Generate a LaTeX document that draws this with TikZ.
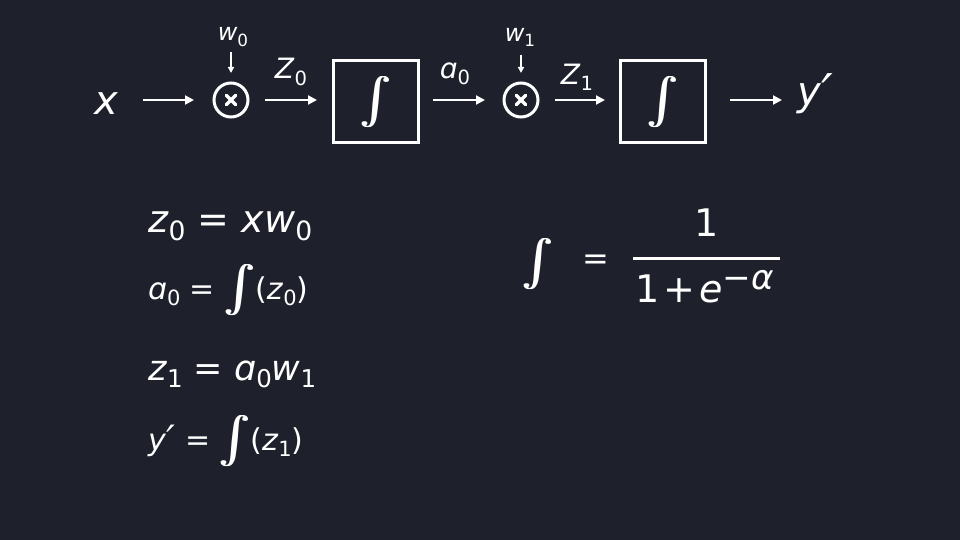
\documentclass[tikz,border=0pt]{standalone}
\usepackage{fontspec}
\setmainfont{DejaVu Sans}
\usepackage{amsmath}
\usepackage{graphicx}
\usetikzlibrary{arrows.meta}
\definecolor{bg}{RGB}{30,33,43}
\newcommand{\V}[1]{\textit{#1}}
\newcommand{\Sb}[1]{\raisebox{-0.22em}{\scalebox{0.7}{#1}}}
\newcommand{\Sp}[1]{\raisebox{0.32em}{\scalebox{0.9}{#1}}}
\newcommand{\PrimeMark}{\kern0.02em\raisebox{-0.13em}{\scalebox{1.3}{\textit{′}}}}
\newcommand{\IntGlyph}{\scalebox{4.6}{\fontsize{10}{12}\selectfont$\textstyle\int$}}
\newcommand{\BigInt}{\rlap{\kern-0.8pt\IntGlyph}\rlap{\kern0.8pt\IntGlyph}\IntGlyph}
\newcommand{\InlInt}{\raisebox{-3pt}{\BigInt}}
\begin{document}
\begin{tikzpicture}[x=1pt,y=-1pt,
  every node/.style={text=white, inner sep=0pt, outer sep=0pt},
  arr/.style={draw=white, line width=2pt, -{Triangle[length=9pt,width=9pt]}},
  sarr/.style={draw=white, line width=1.5pt, -{Triangle[length=6pt,width=6pt]}},
  mult/.style={circle, draw=white, line width=3pt, minimum size=34pt},
  crs/.style={draw=white, line width=3.5pt, line cap=round},
  sigbox/.style={draw=white, line width=3pt, minimum width=85pt, minimum height=82pt},
  big/.style={font=\fontsize{40}{48}\selectfont},
  lab/.style={font=\fontsize{28}{34}\selectfont},
  wlab/.style={font=\fontsize{24}{28}\selectfont},
  eqbig/.style={font=\fontsize{38}{46}\selectfont, anchor=base west},
  eqsmall/.style={font=\fontsize{30}{36}\selectfont, anchor=base west},
  frac/.style={font=\fontsize{38}{46}\selectfont},
]
\fill[bg] (0,0) rectangle (960,540);
\useasboundingbox (0,0) rectangle (960,540);

% top row
\node[big, anchor=base] (x) at (107,115) {\V{x}};
\node[mult] (c1) at (231,100) {};
\node[sigbox] (b1) at (376,102) {\BigInt};
\node[mult] (c2) at (521,100) {};
\node[sigbox] (b2) at (663,102) {\BigInt};
\node[big, anchor=base west] (yp) at (797,106) {\V{y}\PrimeMark};

\draw[crs] ([shift={(-4.7,-4.7)}]c1.center) -- ([shift={(4.7,4.7)}]c1.center);
\draw[crs] ([shift={(-4.7,4.7)}]c1.center) -- ([shift={(4.7,-4.7)}]c1.center);
\draw[crs] ([shift={(-4.7,-4.7)}]c2.center) -- ([shift={(4.7,4.7)}]c2.center);
\draw[crs] ([shift={(-4.7,4.7)}]c2.center) -- ([shift={(4.7,-4.7)}]c2.center);

\node[wlab] (w0) at (233,37) {\V{w}\Sb{0}};
\node[wlab] (w1) at (520,37.5) {\V{w}\Sb{1}};
\node[lab] (z0l) at (291,72) {\V{Z}\Sb{0}};
\node[lab] (a0l) at (455,74) {\V{ɑ}\Sb{0}};
\node[lab] (z1l) at (577,77) {\V{Z}\Sb{1}};

\draw[arr, shorten <=24pt, shorten >=20pt] (x.east |- c1.west) -- (c1.west);
\draw[arr, shorten <=17pt, shorten >=16.5pt] (c1.east) -- (c1.east -| b1.west);
\draw[arr, shorten <=14.5pt, shorten >=19pt] (b1.east |- c2.west) -- (c2.west);
\draw[arr, shorten <=17pt, shorten >=15.5pt] (c2.east) -- (c2.east -| b2.west);
\draw[arr, shorten <=24.5pt, shorten >=15pt] (b2.east |- c2.east) -- (yp.west |- c2.east);

\draw[sarr, shorten <=6pt, shorten >=10pt] (w0.south -| c1.north) -- (c1.north);
\draw[sarr, shorten <=8pt, shorten >=10pt] (w1.south -| c2.north) -- (c2.north);

% equations
\node[eqbig] (e1) at (148,232) {\V{z}\Sb{0} = \V{x}\V{w}\Sb{0}};
\node[eqsmall] (e2) at (148,299) {\V{ɑ}\Sb{0} = \InlInt(\V{z}\Sb{0})};
\node[eqbig, font=\fontsize{35}{42}\selectfont] (e3) at (148,380) {\V{z}\Sb{1} = \V{ɑ}\Sb{0}\V{w}\Sb{1}};
\node[eqsmall] (e4) at (148,450) {\V{y}\PrimeMark{} = \InlInt(\V{z}\Sb{1})};

% sigmoid definition
\node (rint) at (538,264) {\BigInt};
\node[font=\fontsize{32}{38}\selectfont] (req) at (596,262) {=};
\node[frac] (num) at (707,223) {1};
\coordinate (barl) at (633,258);
\coordinate (barr) at (780,258);
\draw[white, line width=3pt] (barl) -- (barr);
\node[frac, anchor=base west] (den) at (635,302) {1\hspace{4pt}+\hspace{4pt}\V{e}\Sp{−\V{α}}};
\end{tikzpicture}
\end{document}
